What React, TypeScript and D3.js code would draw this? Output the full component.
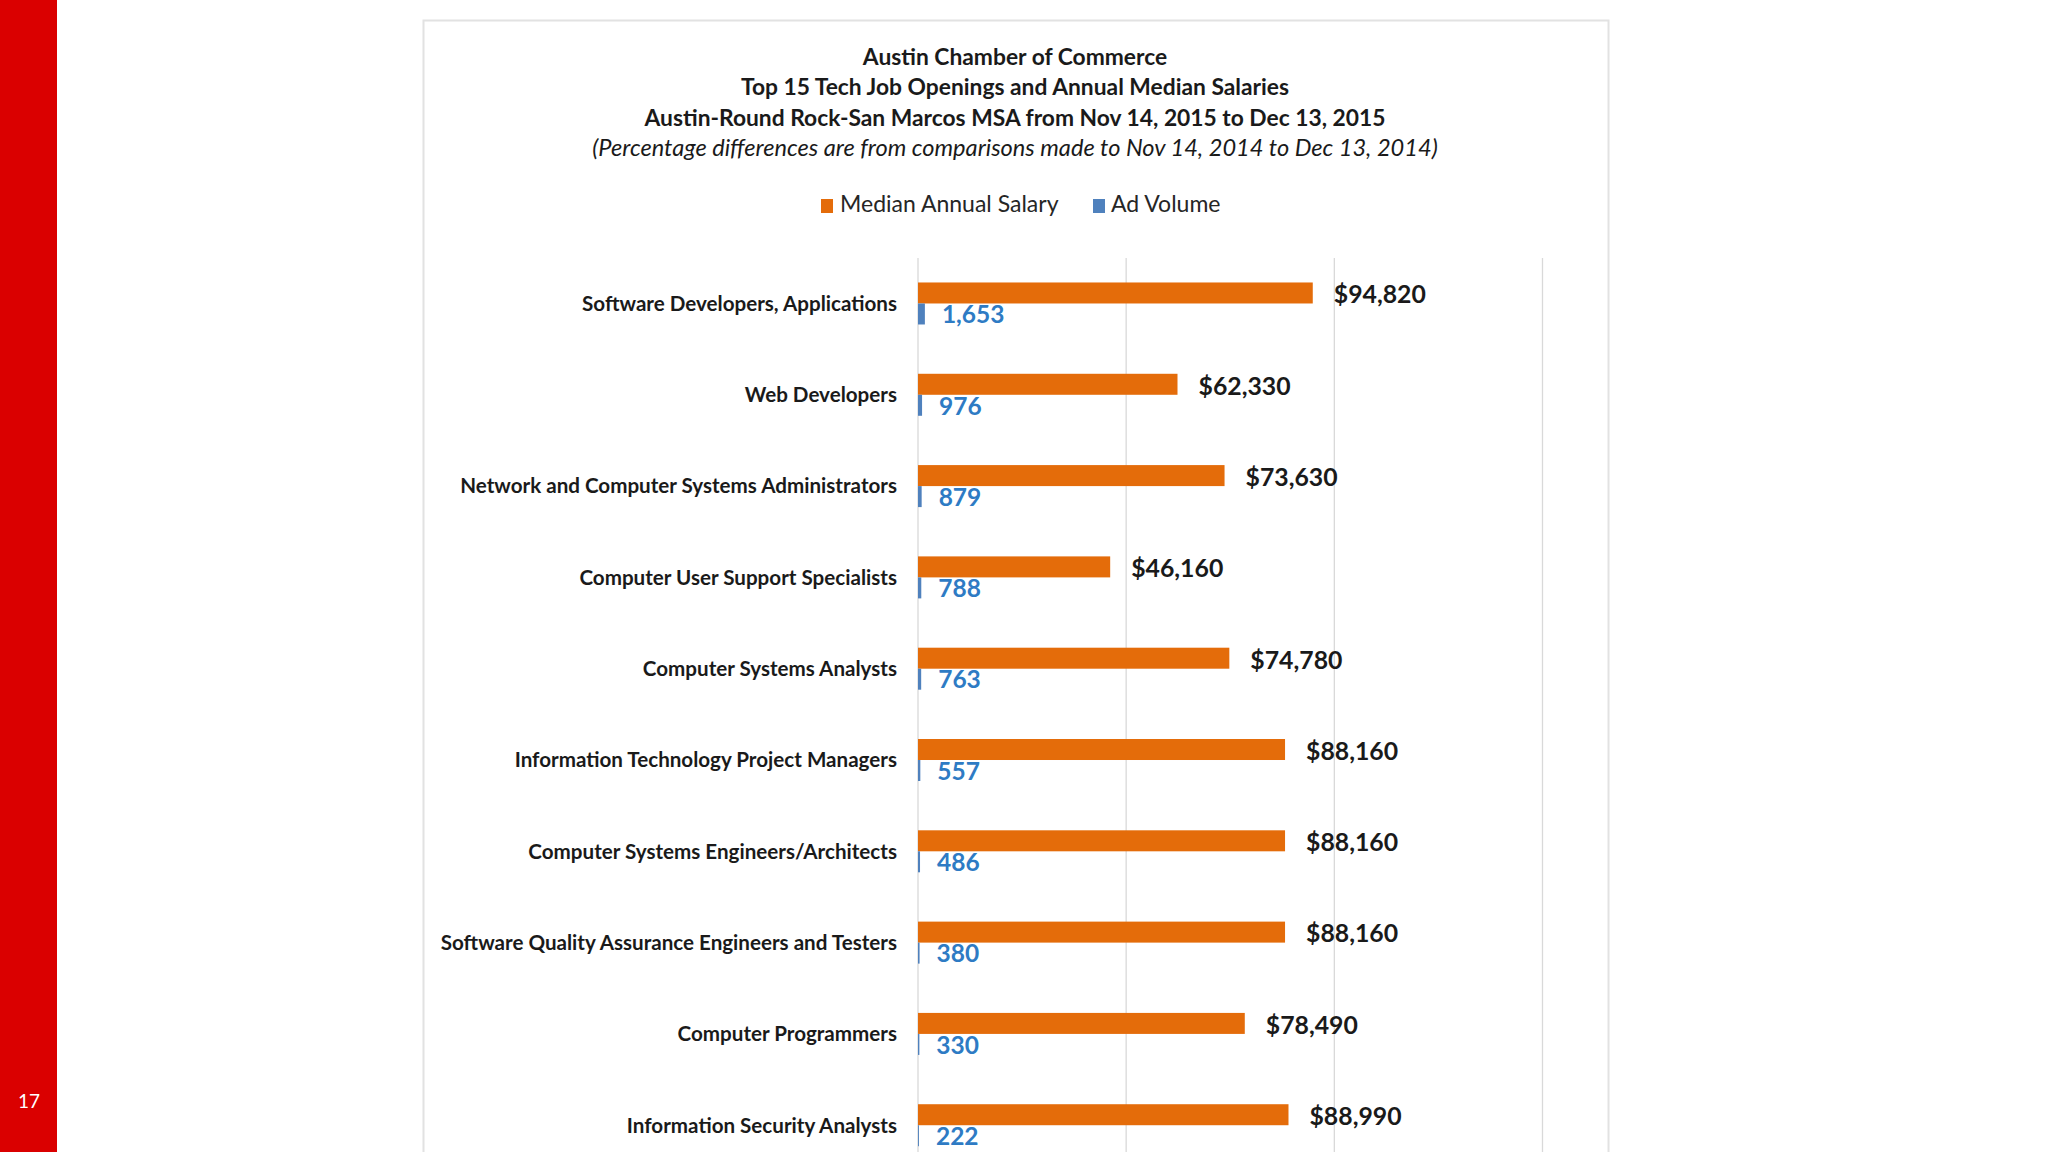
import React from "react";
import * as d3 from "d3";

// chart data
const categories = [
  "Software Developers, Applications",
  "Web Developers",
  "Network and Computer Systems Administrators",
  "Computer User Support Specialists",
  "Computer Systems Analysts",
  "Information Technology Project Managers",
  "Computer Systems Engineers/Architects",
  "Software Quality Assurance Engineers and Testers",
  "Computer Programmers",
  "Information Security Analysts",
];
const salary = [94820, 62330, 73630, 46160, 74780, 88160, 88160, 88160, 78490, 88990];
const adVolume = [1653, 976, 879, 788, 763, 557, 486, 380, 330, 222];
const gridTicks = [0, 50000, 100000, 150000];
const seriesNames = ["Median Annual Salary", "Ad Volume"];
const titleLines = [
  "Austin Chamber of Commerce",
  "Top 15 Tech Job Openings and Annual Median Salaries",
  "Austin-Round Rock-San Marcos MSA from Nov 14, 2015 to Dec 13, 2015",
];
const subtitle = "(Percentage differences are from comparisons made to Nov 14, 2014 to Dec 13, 2014)";

const W = 2048;
const H = 1152;
const FONT = "Lato, 'Open Sans', sans-serif";
const ORANGE = "#e46c0a";
const BLUE_BAR = "#4f81bd";
const BLUE_TEXT = "#2e7bc4";

export default function App() {
  const x = d3.scaleLinear().domain([0, 150000]).range([918, 1542.5]);
  const y = d3
    .scaleBand<string>()
    .domain(categories)
    .range([256, 1172.7])
    .paddingInner(0.54)
    .paddingOuter(0.29);
  const inner = d3.scaleBand<number>().domain([0, 1]).range([0, y.bandwidth()]);
  const fmt = d3.format(",");

  return (
    <div style={{ position: "absolute", left: 0, top: 0, width: W, height: H, overflow: "hidden" }}>
      <svg width={W} height={H} style={{ display: "block", background: "#fff" }}>
        {/* slide side bar */}
        <rect x={0} y={0} width={57} height={H} fill="#da0000" />
        <text x={29} y={1103} fill="#fff" fontFamily={FONT} fontSize={19} textAnchor="middle" dominantBaseline="middle">
          17
        </text>

        {/* chart panel */}
        <rect x={423.5} y={20.5} width={1185} height={1200} fill="#fff" stroke="#e2e2e2" strokeWidth={2} />

        {titleLines.map((t, i) => (
          <text
            key={t}
            x={1015}
            y={59 + i * 30.5}
            textAnchor="middle"
            dominantBaseline="middle"
            fontFamily={FONT}
            fontWeight="bold"
            fontSize={22.8}
            fill="#1a1a1a"
          >
            {t}
          </text>
        ))}
        <text
          x={1015}
          y={150}
          textAnchor="middle"
          dominantBaseline="middle"
          fontFamily={FONT}
          fontStyle="italic"
          fontSize={23.6}
          fill="#1a1a1a"
        >
          {subtitle}
        </text>

        {/* legend */}
        <g fontFamily={FONT} fontSize={23} fill="#262626">
          <rect x={821} y={199} width={12} height={14} fill={ORANGE} />
          <text x={840} y={206} dominantBaseline="middle">{seriesNames[0]}</text>
          <rect x={1093} y={199} width={12} height={14} fill={BLUE_BAR} />
          <text x={1111} y={206} dominantBaseline="middle">{seriesNames[1]}</text>
        </g>

        {/* grid */}
        {gridTicks.map((t) => (
          <line key={t} x1={x(t)} x2={x(t)} y1={258} y2={H} stroke="#d9d9d9" strokeWidth={1.3} />
        ))}

        {categories.map((c, i) => {
          const y0 = y(c) as number;
          const bw = inner.bandwidth();
          return (
            <g key={c}>
              <text
                x={897}
                y={y0 + y.bandwidth() / 2 + 2}
                textAnchor="end"
                dominantBaseline="middle"
                fontFamily={FONT}
                fontWeight="bold"
                fontSize={20.6}
                fill="#1a1a1a"
              >
                {c}
              </text>
              <rect x={x(0)} y={y0 + (inner(0) as number)} width={x(salary[i]) - x(0)} height={bw} fill={ORANGE} />
              <rect x={x(0)} y={y0 + (inner(1) as number)} width={x(adVolume[i]) - x(0)} height={bw} fill={BLUE_BAR} />
              <text
                x={x(salary[i]) + 21}
                y={y0 + (inner(0) as number) + bw / 2 + 4}
                dominantBaseline="middle"
                fontFamily={FONT}
                fontWeight="bold"
                fontSize={24.8}
                fill="#1a1a1a"
              >
                {"$" + fmt(salary[i])}
              </text>
              <text
                x={x(adVolume[i]) + 17}
                y={y0 + (inner(1) as number) + bw / 2 + 3}
                dominantBaseline="middle"
                fontFamily={FONT}
                fontWeight="bold"
                fontSize={24.5}
                fill={BLUE_TEXT}
              >
                {fmt(adVolume[i])}
              </text>
            </g>
          );
        })}
      </svg>
    </div>
  );
}
